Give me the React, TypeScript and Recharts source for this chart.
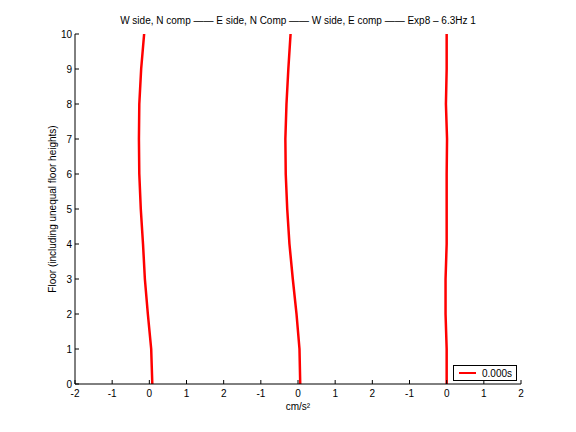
import React from "react"
import { LineChart, Line, XAxis, YAxis } from "recharts"

// floor levels and the three acceleration profiles (cm/s^2)
const floors = [0, 1, 2, 3, 4, 5, 6, 7, 8, 9, 10]
const wSideN = [0.08, 0.05, -0.04, -0.12, -0.17, -0.23, -0.27, -0.28, -0.27, -0.22, -0.14]
const eSideN = [0.06, 0.04, -0.04, -0.14, -0.23, -0.29, -0.33, -0.34, -0.31, -0.26, -0.2]
const wSideE = [0, 0, -0.03, -0.03, 0, 0, 0, 0.01, -0.02, 0, 0]

// each panel is drawn around its own zero on a shared 0..12 axis
const panelZero = [2, 6, 10]
const xTicks = [0, 1, 2, 3, 4, 5, 6, 7, 8, 9, 10, 11, 12]
const xTickLabels = ["-2", "-1", "0", "1", "2", "-1", "0", "1", "2", "-1", "0", "1", "2"]
const yTicks = [0, 1, 2, 3, 4, 5, 6, 7, 8, 9, 10]

const data = floors.map((f, i) => ({
  floor: f,
  a: panelZero[0] + wSideN[i],
  b: panelZero[1] + eSideN[i],
  c: panelZero[2] + wSideE[i],
}))

const font = "'Liberation Sans', Arial, sans-serif"

function XTick(props: any) {
  const { x, y, payload, index } = props
  return (
    <g>
      <line x1={x} y1={y} x2={x} y2={y - 4} stroke="#000" />
      <text x={x} y={y + 13} textAnchor="middle" fontSize={10} fontFamily={font} fill="#000">
        {xTickLabels[index] ?? payload.value}
      </text>
    </g>
  )
}

function YTick(props: any) {
  const { x, y, payload } = props
  return (
    <g>
      <line x1={x} y1={y} x2={x + 4} y2={y} stroke="#000" />
      <text x={x - 3} y={y + 3.5} textAnchor="end" fontSize={10} fontFamily={font} fill="#000">
        {payload.value}
      </text>
    </g>
  )
}

export default function App() {
  return (
    <div style={{ position: "absolute", left: 0, top: 0, width: 576, height: 432, background: "#fff" }}>
      <div
        style={{
          position: "absolute",
          top: 15,
          left: 0,
          width: 596,
          textAlign: "center",
          fontFamily: font,
          fontSize: 10,
          whiteSpace: "pre",
        }}
      >
        W side, N comp —— E side, N Comp —— W side, E comp —— Exp8 – 6.3Hz 1
      </div>
      <LineChart
        width={576}
        height={432}
        data={data}
        layout="vertical"
        margin={{ top: 34, right: 55, bottom: 18, left: 45 }}
      >
        <XAxis
          type="number"
          domain={[0, 12]}
          ticks={xTicks}
          allowDataOverflow
          tickSize={0}
          tickMargin={0}
          height={30}
          stroke="#000"
          tick={<XTick />}
          label={{ value: "cm/s²", position: "insideBottom", offset: 4, fontSize: 10, fontFamily: font, fill: "#000" }}
        />
        <YAxis
          type="number"
          dataKey="floor"
          domain={[0, 10]}
          ticks={yTicks}
          reversed
          tickSize={0}
          tickMargin={0}
          width={30}
          stroke="#000"
          tick={<YTick />}
          label={{
            value: "Floor (including unequal floor heights)",
            angle: -90,
            position: "insideLeft",
            offset: 7,
            style: { textAnchor: "middle" },
            fontSize: 10,
            fontFamily: font,
            fill: "#000",
          }}
        />
        <Line dataKey="a" stroke="#ff0000" strokeWidth={2.5} dot={false} isAnimationActive={false} />
        <Line dataKey="b" stroke="#ff0000" strokeWidth={2.5} dot={false} isAnimationActive={false} />
        <Line dataKey="c" stroke="#ff0000" strokeWidth={2.5} dot={false} isAnimationActive={false} />
      </LineChart>
      <div
        style={{
          position: "absolute",
          left: 453,
          top: 365,
          border: "1px solid #000",
          background: "#fff",
          height: 16,
          width: 64,
          display: "flex",
          alignItems: "center",
          fontFamily: font,
          fontSize: 10,
          boxSizing: "border-box",
        }}
      >
        <div style={{ width: 17, height: 2, background: "#ff0000", marginLeft: 5, marginRight: 6 }} />
        <span>0.000s</span>
      </div>
    </div>
  )
}
